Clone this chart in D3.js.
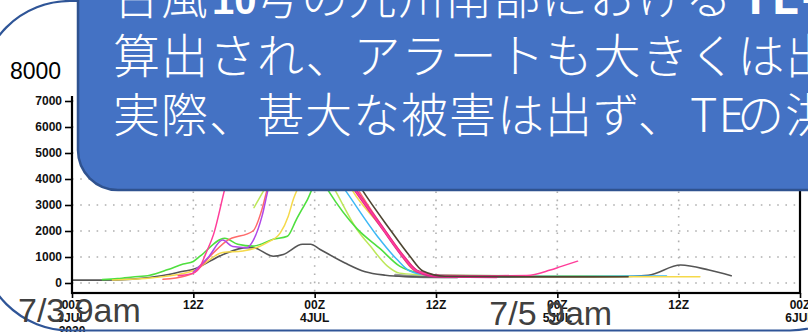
<!DOCTYPE html>
<html><head><meta charset="utf-8">
<script src="https://cdn.jsdelivr.net/npm/d3@7"></script>
<style>html,body{margin:0;padding:0;background:#fff;overflow:hidden}</style>
</head><body>
<svg id="c" width="808" height="332"></svg>
<script>
// ---- data ----
const hourTicks = [0, 12, 24, 36, 48, 60, 72];
const hourTickLabels = [["00Z","3JUL","2020"],["12Z"],["00Z","4JUL"],["12Z"],["00Z","5JUL"],["12Z"],["00Z","6JUL"]];
const yTicks = [0, 1000, 2000, 3000, 4000, 5000, 6000, 7000, 8000];
const yTickLabels = ["0","1000","2000","3000","4000","5000","6000","7000","8000"];

const seriesGray = [[0,110],[3,110],[6,150],[9,290],[11,450],[12,530],[14.9,1090],[17.3,1360],[17.9,1360],[19.9,1030],[20.9,1100],[22.8,1490],[23.6,1490],[24.5,1300],[27,770],[29,430],[31,300],[33,250],[36,230],[42,230],[48,230],[54,240],[57,300],[60.2,690],[63,500],[65.2,280]];
const seriesGreen = [[3,130],[4.5,170],[6,230],[7.7,300],[9.5,520],[11,730],[12,830],[12.7,1040],[15.1,1720],[16.4,1490],[17.9,1420],[19.9,1680],[21.3,1800],[22.2,2450],[23.3,3220],[24.5,4100],[25.3,3580],[28.2,2080],[30.5,1310],[32.4,650],[34.4,380],[36.4,300],[45,270],[55,260]];
const seriesYellowGreen = [[18,2900],[19.1,3650],[20.5,4600],[22.5,5200],[24.5,4600],[26,3580],[28.2,2050],[29.5,1420],[31.2,650],[32.4,380],[34.4,320],[36,290],[44,270]];
const seriesCyan = [[21,6000],[24,5200],[27,3580],[30.2,1800],[32.1,920],[33.4,460],[35.4,300],[40,270],[50,260],[58.8,270]];
const seriesYellow = [[4,120],[8,200],[12,470],[14.9,1170],[16.9,1230],[19.3,1550],[20.6,1930],[21.4,2580],[21.9,3230],[22.4,3700],[24,5100],[26,4900],[27.7,3580],[30.5,2190],[32.4,1170],[33.7,530],[35.4,300],[40,260],[50,250],[62.1,240]];
const seriesPink = [[10.5,280],[12,380],[12.7,650],[13.2,1100],[14,1870],[15.1,3600],[16.5,5600],[19,6800],[23,6200],[28,3580],[30.8,2060],[32.7,1040],[34.1,460],[36.4,290],[42,280],[45,290],[47.3,500],[48.4,640],[50,840]];
const seriesRed = [[9,140],[11.2,270],[12,380],[14,1170],[15.3,1620],[17.9,2000],[18.8,2850],[19.3,3600],[21,5600],[24,6400],[28.3,3580],[31,2000],[32.9,1000],[34.3,440],[36.5,280],[44,260]];
const seriesPurple = [[12,420],[13.5,1000],[14.9,1650],[15.9,1400],[17.3,1360],[17.9,1620],[18.8,2580],[19.4,3600],[21,5400],[24,6300],[28.1,3580],[30.9,2000],[32.8,1000],[34.2,450],[36.4,280],[42,260]];
const seriesMagenta = [[22,6500],[25.5,5000],[28,3580],[30.8,2060],[32.7,1040],[34.1,460],[36.4,260],[42,240]];
const seriesBrown = [[23,6600],[26.5,5000],[28.7,3580],[31.45,2060],[33.4,1040],[34.7,460],[36.9,260],[45,240],[55,240]];
const seriesSilver = [[32,300],[34,250],[38.1,230]];

const seriesList = [
  {data: seriesSilver, color: "#9a9a9a", w: 3},
  {data: seriesGray, color: "#555555", w: 1.6},
  {data: seriesYellowGreen, color: "#bde85a", w: 1.5},
  {data: seriesGreen, color: "#4fdf3f", w: 1.6},
  {data: seriesCyan, color: "#3cb8f5", w: 1.5},
  {data: seriesYellow, color: "#f5d94a", w: 1.5},
  {data: seriesRed, color: "#ff6a6a", w: 1.5},
  {data: seriesPurple, color: "#b048e8", w: 1.5},
  {data: seriesMagenta, color: "#e0258c", w: 3},
  {data: seriesPink, color: "#ff3d9a", w: 1.5},
  {data: seriesBrown, color: "#4e4532", w: 1.6}
];

const calloutLines = [
  [{t:"台風"},{t:"10", latin:true, x:212},{t:"号の九州南部における", x:253},{t:"TE-J", b:true, x:741}],
  [{t:"算出され、アラートも大きくは出"}],
  [{t:"実際、甚大な被害は出ず、"},{t:"TE", x:690},{t:"の洪", x:737}]
];
const dateLabels = [{t:"7/3 9am", h:0}, {t:"7/5 9am", h:48}];

// ---- drawing ----
const svg = d3.select("#c");
svg.append("rect").attr("width",808).attr("height",332).attr("fill","#fff");

const x = d3.scaleLinear().domain([0,72]).range([72,800]);
const y = d3.scaleLinear().domain([0,8000]).range([283,75]);
const plotTop = 52, plotBottom = 293;

svg.append("clipPath").attr("id","plot").append("rect")
  .attr("x", x(0)).attr("y", plotTop).attr("width", x(72)-x(0)).attr("height", plotBottom-plotTop);

// gridlines
const grid = svg.append("g");
grid.selectAll("line.h").data(yTicks).join("line")
  .attr("x1", x(0)).attr("x2", x(72)).attr("y1", d=>y(d)).attr("y2", d=>y(d))
  .attr("stroke","#b0b0b0").attr("stroke-width",1.6).attr("stroke-dasharray","1.6,6.6");
grid.selectAll("line.v").data(hourTicks.filter(h=>h>0 && h<72)).join("line")
  .attr("x1", d=>x(d)).attr("x2", d=>x(d)).attr("y1", plotTop).attr("y2", plotBottom)
  .attr("stroke","#b0b0b0").attr("stroke-width",1.6).attr("stroke-dasharray","1.6,6.6");

// series
const line = d3.line().x(d=>x(d[0])).y(d=>y(d[1])).curve(d3.curveMonotoneX);
svg.append("g").attr("clip-path","url(#plot)")
  .selectAll("path").data(seriesList).join("path")
  .attr("d", d=>line(d.data)).attr("fill","none")
  .attr("stroke", d=>d.color).attr("stroke-width", d=>d.w)
  .attr("stroke-linejoin","round").attr("stroke-linecap","round");

// axes
const yAxis = d3.axisLeft(y).tickValues(yTicks).tickSize(7).tickPadding(3)
  .tickFormat((d,i)=>yTickLabels[i]);
const ya = svg.append("g").attr("transform",`translate(${x(0)},0)`).call(yAxis);
ya.select(".domain").remove();
ya.selectAll(".tick line").attr("stroke","#000").attr("stroke-width",1.6);
ya.selectAll(".tick text").attr("font-family","'Liberation Sans', Arial, sans-serif")
  .attr("font-weight","bold").attr("font-size",12).attr("fill","#111");

const xAxis = d3.axisBottom(x).tickValues(hourTicks).tickSize(5).tickFormat("");
const xa = svg.append("g").attr("transform",`translate(0,${plotBottom})`).call(xAxis);
xa.select(".domain").remove();
xa.selectAll(".tick line").attr("stroke","#000").attr("stroke-width",1.6);

const xl = svg.append("g").selectAll("text").data(hourTicks).join("text")
  .attr("x", d=>x(d)).attr("y", 309)
  .attr("text-anchor","middle")
  .attr("font-family","'Liberation Sans', Arial, sans-serif")
  .attr("font-weight","bold").attr("font-size",12).attr("fill","#111");
xl.each(function(d,i){
  const t = d3.select(this);
  hourTickLabels[i].forEach((s,j)=>{
    t.append("tspan").attr("x", x(d)).attr("dy", j===0?0:13).text(s);
  });
});

// plot box
svg.append("rect").attr("x", x(0)).attr("y", plotTop)
  .attr("width", x(72)-x(0)).attr("height", plotBottom-plotTop)
  .attr("fill","none").attr("stroke","#000").attr("stroke-width",2.2);

// slide frame (rounded rectangle outline)
svg.append("rect").attr("x",-20).attr("y",1).attr("width",900).attr("height",329.5)
  .attr("rx",90).attr("ry",90).attr("fill","none")
  .attr("stroke","#2f5597").attr("stroke-width",2.2);

// "8000" text box
svg.append("rect").attr("x",0).attr("y",44).attr("width",77).attr("height",52).attr("fill","#fff");
svg.append("text").attr("x",10).attr("y",79)
  .attr("font-family","'Liberation Sans', Arial, sans-serif").attr("font-size",23)
  .attr("fill","#000").text(yTickLabels[8]);

// callout box
svg.append("rect").attr("x",78).attr("y",-40).attr("width",780).attr("height",230)
  .attr("rx",40).attr("ry",40).attr("fill","#4472c4")
  .attr("stroke","#2f528f").attr("stroke-width",2.5);

const baselines = [14, 73, 132];
calloutLines.forEach((parts, i)=>{
  const t = svg.append("text").attr("x",113).attr("y",baselines[i])
    .attr("font-family","'Noto Sans CJK JP', 'Noto Sans', sans-serif")
    .attr("font-size",47).attr("letter-spacing",1).attr("fill","#fff");
  parts.forEach(p=>{
    const s = t.append("tspan").attr("font-weight", p.b ? "bold" : 300).text(p.t);
    if (p.latin) s.attr("font-family","'Liberation Sans', Arial, sans-serif")
                  .attr("font-weight","bold").attr("font-size",40).attr("letter-spacing",0);
    if (p.x !== undefined) s.attr("x", p.x);
  });
});

// date labels
svg.append("g").selectAll("text").data(dateLabels).join("text")
  .attr("x", (d,i)=> i===0 ? 18 : x(d.h)-68)
  .attr("y", (d,i)=> i===0 ? 322 : 325)
  .attr("font-family","'Liberation Sans', Arial, sans-serif")
  .attr("font-size",34).attr("fill","#404040").text(d=>d.t);
</script>
</body></html>
